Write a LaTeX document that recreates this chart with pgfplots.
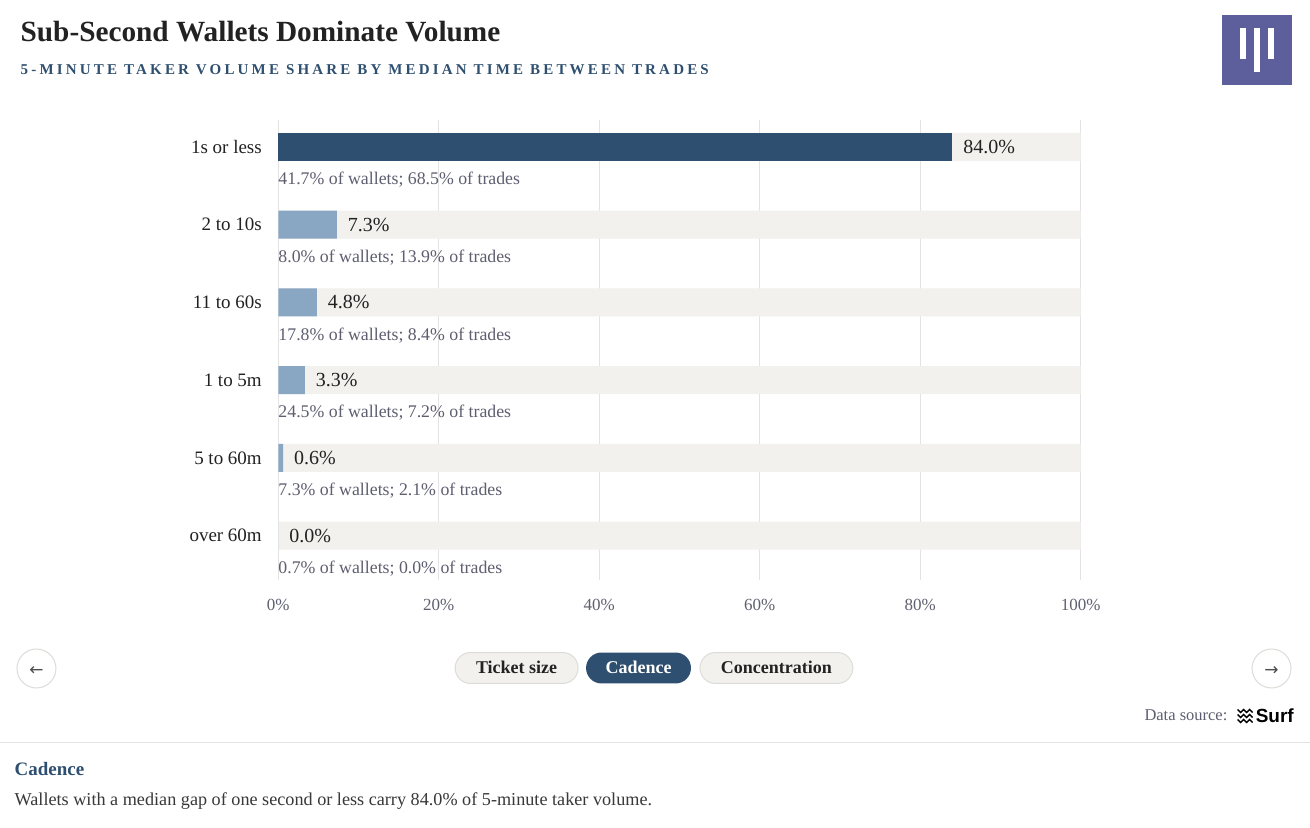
\documentclass[border=0pt]{standalone}
\usepackage{fontspec}
\setmainfont{Liberation Serif}
\newfontfamily\symfont{DejaVu Sans}
\newfontfamily\sansfont{Liberation Sans}
\usepackage{pgfplots}
\pgfplotsset{compat=1.18}
\protected\def\sc{;}
\definecolor{darkbar}{HTML}{2E4F6F}
\definecolor{lightbar}{HTML}{89A6C3}
\definecolor{trackc}{HTML}{F2F1EE}
\definecolor{gridc}{HTML}{E3E3E3}
\definecolor{annc}{HTML}{5E5E70}
\definecolor{tickc}{HTML}{606070}
\definecolor{logoc}{HTML}{5C5F9C}
\definecolor{btnborder}{HTML}{DCDCD8}
\definecolor{textc}{HTML}{222222}
\begin{document}
\begin{tikzpicture}[x=1pt,y=1pt]
\fill[white] (0,0) rectangle (1310,828);
% title
\node[anchor=base west, inner sep=0, font=\fontsize{29.3}{34}\selectfont\bfseries, text=textc] at (20,786) {Sub-Second Wallets Dominate Volume};
\node[anchor=base west, inner sep=0, text=darkbar, font=\fontsize{15}{18}\selectfont\bfseries\addfontfeatures{LetterSpace=21.3}] at (20,753) {5-MINUTE TAKER VOLUME SHARE BY MEDIAN TIME BETWEEN TRADES};
% logo
\fill[logoc] (1222,743) rectangle (1292,813);
\fill[white] (1240,769) rectangle (1246,800);
\fill[white] (1254,756) rectangle (1260,800);
\fill[white] (1268,769) rectangle (1274,800);
\begin{axis}[
  at={(278pt,248pt)}, anchor=south west, scale only axis,
  width=803pt, height=460pt,
  xmin=0, xmax=100, ymin=-0.347, ymax=5.566, y dir=reverse,
  axis line style={draw=none}, major tick length=0pt,
  /pgf/number format/assume math mode=true,
  xtick={0,20,40,60,80,100},
  xticklabel={\pgfmathprintnumber{\tick}\%},
  ytick={0,1,2,3,4,5},
  yticklabels={1s or less,2 to 10s,11 to 60s,1 to 5m,5 to 60m,over 60m},
  xmajorgrids, grid style={draw=gridc, line width=1.2pt},
  xticklabel style={font=\fontsize{17}{20}\selectfont, text=tickc, yshift=-16pt},
  yticklabel style={font=\fontsize{19}{22}\selectfont, text=textc, xshift=-13pt},
  clip=false,
]
\addplot[xbar, bar width=28pt, bar shift=0pt, fill=trackc, draw=none] coordinates {(100,0) (100,1) (100,2) (100,3) (100,4) (100,5)};
\addplot[xbar, bar width=28pt, bar shift=0pt, fill=darkbar, draw=none, point meta=x,
  nodes near coords={\pgfmathprintnumber[fixed,fixed zerofill,precision=1,assume math mode=true]{\pgfplotspointmeta}\%},
  nodes near coords style={font=\fontsize{20}{23}\selectfont, text=textc, xshift=7.5pt}] coordinates {(84.0,0)};
\addplot[xbar, bar width=28pt, bar shift=0pt, fill=lightbar, draw=none, point meta=x,
  nodes near coords={\pgfmathprintnumber[fixed,fixed zerofill,precision=1,assume math mode=true]{\pgfplotspointmeta}\%},
  nodes near coords style={font=\fontsize{20}{23}\selectfont, text=textc, xshift=7.5pt}] coordinates {(7.3,1) (4.8,2) (3.3,3) (0.6,4) (0.0,5)};
\addplot[draw=none, mark=none, point meta=explicit symbolic, nodes near coords,
  nodes near coords align={anchor=west},
  nodes near coords style={anchor=west, inner sep=0pt, font=\fontsize{17.8}{20}\selectfont, text=annc}]
  coordinates {
  (0,0.424) [{41.7\% of wallets\sc{} 68.5\% of trades}]
  (0,1.424) [{8.0\% of wallets\sc{} 13.9\% of trades}]
  (0,2.424) [{17.8\% of wallets\sc{} 8.4\% of trades}]
  (0,3.424) [{24.5\% of wallets\sc{} 7.2\% of trades}]
  (0,4.424) [{7.3\% of wallets\sc{} 2.1\% of trades}]
  (0,5.424) [{0.7\% of wallets\sc{} 0.0\% of trades}]
  };
\end{axis}
% buttons
\draw[fill=trackc, draw=btnborder, line width=1pt, rounded corners=15.5pt] (455,144) rectangle (578,175);
\node[font=\fontsize{18}{21}\selectfont\bfseries, text=textc] at (516.5,160) {Ticket size};
\fill[darkbar, rounded corners=15.5pt] (586,144) rectangle (691,175);
\node[font=\fontsize{18}{21}\selectfont\bfseries, text=white] at (638.5,160) {Cadence};
\draw[fill=trackc, draw=btnborder, line width=1pt, rounded corners=15.5pt] (700,144) rectangle (853,175);
\node[font=\fontsize{18}{21}\selectfont\bfseries, text=textc] at (776.5,160) {Concentration};
% arrows
\draw[fill=white, draw=btnborder, line width=1pt] (36,159) circle (19.5);
\node[font=\symfont\fontsize{17}{20}\selectfont, text=textc!80] at (36,156) {←};
\draw[fill=white, draw=btnborder, line width=1pt] (1272,159) circle (19.5);
\node[font=\symfont\fontsize{17}{20}\selectfont, text=textc!80] at (1272,156) {→};
% data source
\node[anchor=base east, inner sep=0, font=\fontsize{16.5}{19}\selectfont, text=annc] at (1228,107) {Data source:};
\foreach \dy in {0,5,10}{
  \draw[line width=1.4pt, black] (1238,118-\dy) -- ++(3,-3) -- ++(3,3) -- ++(3,-3) -- ++(3,3) -- ++(3,-3);
}
\node[anchor=base west, inner sep=0, font=\sansfont\bfseries\fontsize{19}{22}\selectfont, text=black] at (1256,105) {Surf};
% rule
\draw[line width=1pt, gridc] (0,85) -- (1310,85);
\node[anchor=base west, inner sep=0, font=\fontsize{19}{22}\selectfont\bfseries, text=darkbar] at (14,52) {Cadence};
\node[anchor=base west, inner sep=0, font=\fontsize{18.2}{21}\selectfont, text=textc!90] at (14,22) {Wallets with a median gap of one second or less carry 84.0\% of 5-minute taker volume.};
\end{tikzpicture}
\end{document}
